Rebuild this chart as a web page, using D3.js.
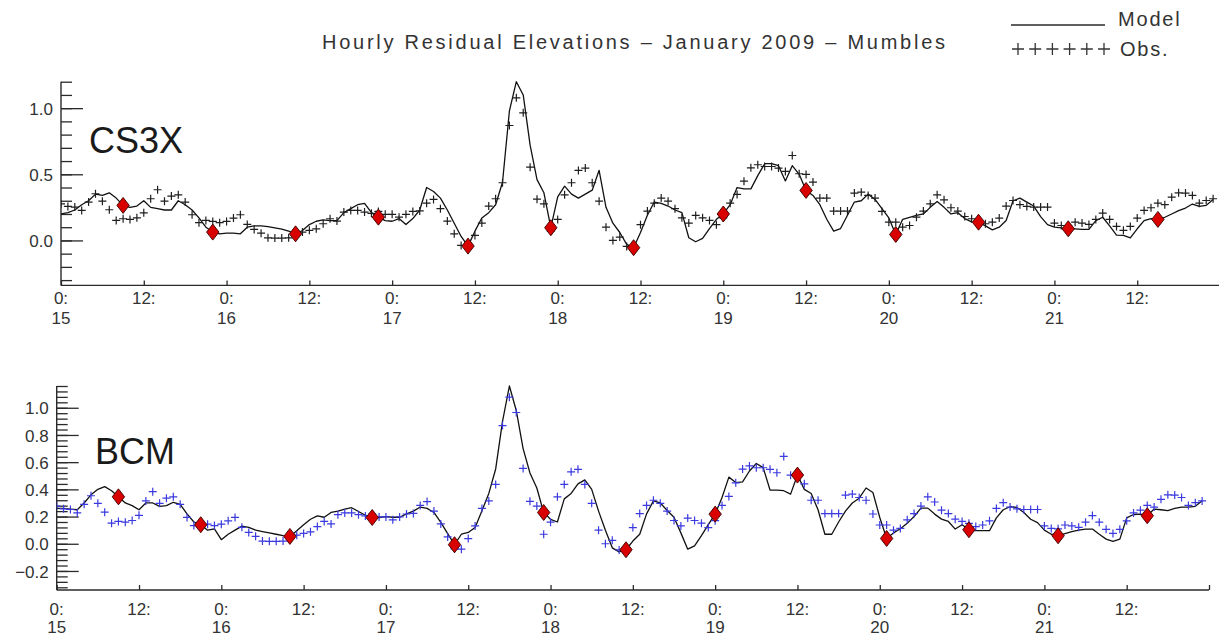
<!DOCTYPE html>
<html>
<head>
<meta charset="utf-8">
<script src="https://cdn.jsdelivr.net/npm/d3@7"></script>
<style>
  body { margin: 0; background: #fff; }
  svg { display: block; }
  text { font-family: "Liberation Sans", Arial, sans-serif; }
</style>
</head>
<body>
<svg id="chart" width="1219" height="640"></svg>
<script>
// Hourly residual elevations (m), 15 Jan 00:00 to 21 Jan 23:00, 2009, Mumbles
const obsResidual = [
  0.277, 0.257, 0.252, 0.227, 0.29, 0.353, 0.297, 0.232, 0.151, 0.164, 0.159, 0.171,
  0.209, 0.315, 0.383, 0.297, 0.335, 0.345, 0.29, 0.194, 0.134, 0.151, 0.144, 0.134,
  0.144, 0.169, 0.194, 0.121, 0.083, 0.055, 0.02, 0.018, 0.018, 0.02, 0.04, 0.063,
  0.076, 0.088, 0.126, 0.164, 0.146, 0.214, 0.227, 0.227, 0.214, 0.205, 0.219, 0.197,
  0.197, 0.176, 0.197, 0.219, 0.223, 0.282, 0.31, 0.24, 0.146, 0.05, -0.038, -0.04,
  0.038, 0.131, 0.26, 0.315, 0.436, 0.869, 1.078, 0.965, 0.554, 0.312, 0.277, 0.07,
  0.159, 0.345, 0.436, 0.529, 0.547, 0.436, 0.297, 0.1, 0.0, 0.025, -0.045, -0.065,
  0.119, 0.222, 0.282, 0.32, 0.297, 0.24, 0.171, 0.131, 0.189, 0.171, 0.151, 0.119,
  0.17, 0.282, 0.348, 0.448, 0.549, 0.572, 0.559, 0.559, 0.547, 0.522, 0.642, 0.504,
  0.499, 0.441, 0.32, 0.32, 0.222, 0.222, 0.222, 0.358, 0.365, 0.34, 0.32, 0.219,
  0.138, 0.138, 0.1, 0.113, 0.176, 0.222, 0.277, 0.345, 0.307, 0.247, 0.222, 0.181,
  0.164, 0.15, 0.126, 0.138, 0.169, 0.26, 0.302, 0.27, 0.257, 0.252, 0.252, 0.252,
  0.131, 0.113, 0.11, 0.138, 0.131, 0.121, 0.159, 0.207, 0.159, 0.106, 0.076, 0.106,
  0.169, 0.227, 0.247, 0.282, 0.27, 0.327, 0.36, 0.358, 0.34, 0.282, 0.302, 0.315
];

const modelCS3X = [
  0.20, 0.21, 0.23, 0.27, 0.30, 0.35, 0.34, 0.36, 0.32, 0.265, 0.25, 0.26,
  0.30, 0.25, 0.24, 0.23, 0.23, 0.30, 0.27, 0.23, 0.17, 0.10, 0.063, 0.05,
  0.055, 0.055, 0.05, 0.10, 0.11, 0.11, 0.105, 0.095, 0.085, 0.07, 0.05, 0.075,
  0.12, 0.145, 0.155, 0.15, 0.15, 0.21, 0.24, 0.27, 0.28, 0.21, 0.176, 0.15,
  0.145, 0.165, 0.12, 0.165, 0.23, 0.40, 0.37, 0.32, 0.23, 0.13, 0.03, -0.043,
  0.07, 0.17, 0.21, 0.27, 0.44, 0.98, 1.20, 1.10, 0.72, 0.46, 0.36, 0.096,
  0.33, 0.41, 0.35, 0.32, 0.35, 0.38, 0.53, 0.25, 0.13, 0.06, -0.03, -0.055,
  0.06, 0.19, 0.29, 0.28, 0.26, 0.23, 0.21, 0.02, -0.01, 0.015, 0.09, 0.16,
  0.20, 0.27, 0.40, 0.39, 0.39, 0.49, 0.58, 0.58, 0.565, 0.45, 0.565, 0.50,
  0.378, 0.34, 0.27, 0.16, 0.07, 0.09, 0.19, 0.29, 0.30, 0.35, 0.31, 0.24,
  0.17, 0.045, 0.16, 0.175, 0.19, 0.20, 0.25, 0.295, 0.25, 0.20, 0.21, 0.165,
  0.14, 0.138, 0.11, 0.08, 0.10, 0.15, 0.30, 0.32, 0.29, 0.26, 0.18, 0.12,
  0.10, 0.095, 0.088, 0.088, 0.083, 0.083, 0.15, 0.175, 0.11, 0.04, 0.038, 0.02,
  0.088, 0.15, 0.165, 0.159, 0.175, 0.20, 0.225, 0.245, 0.275, 0.257, 0.265, 0.31
];

const modelBCM = [
  0.26, 0.26, 0.255, 0.25, 0.30, 0.36, 0.40, 0.42, 0.39, 0.345, 0.30, 0.28,
  0.25, 0.30, 0.30, 0.275, 0.28, 0.305, 0.29, 0.22, 0.16, 0.14, 0.10, 0.11,
  0.03, 0.07, 0.10, 0.13, 0.12, 0.10, 0.09, 0.08, 0.07, 0.06, 0.054, 0.095,
  0.14, 0.18, 0.205, 0.195, 0.23, 0.24, 0.255, 0.265, 0.237, 0.21, 0.193, 0.193,
  0.20, 0.195, 0.195, 0.22, 0.24, 0.27, 0.26, 0.23, 0.157, 0.075, -0.007, 0.07,
  0.083, 0.12, 0.243, 0.37, 0.55, 0.90, 1.16, 0.98, 0.70, 0.52, 0.41, 0.23,
  0.18, 0.16, 0.33, 0.37, 0.44, 0.47, 0.40, 0.24, 0.10, -0.03, -0.06, -0.044,
  0.02, 0.07, 0.22, 0.315, 0.30, 0.245, 0.195, 0.08, -0.04, -0.015, 0.06, 0.14,
  0.218, 0.34, 0.49, 0.45, 0.455, 0.535, 0.59, 0.56, 0.395, 0.395, 0.39, 0.365,
  0.505, 0.40, 0.37, 0.25, 0.07, 0.07, 0.16, 0.24, 0.30, 0.335, 0.41, 0.377,
  0.193, 0.039, 0.08, 0.11, 0.15, 0.20, 0.262, 0.262, 0.218, 0.181, 0.164, 0.108,
  0.14, 0.103, 0.096, 0.096, 0.096, 0.19, 0.25, 0.272, 0.267, 0.23, 0.18, 0.155,
  0.10, 0.07, 0.059, 0.075, 0.09, 0.10, 0.108, 0.108, 0.07, 0.034, 0.017, 0.034,
  0.19, 0.215, 0.218, 0.206, 0.255, 0.25, 0.243, 0.26, 0.27, 0.27, 0.275, 0.316
];

// Hours (from 15 Jan 00:00) of high water, where the residual is marked
const hwCS3X = [9, 22, 34, 46, 59, 71, 83, 96, 108, 121, 133, 146, 159];
const hwBCM  = [9, 21, 34, 46, 58, 71, 83, 96, 108, 121, 133, 146, 159];

const dayLabels = ["15", "16", "17", "18", "19", "20", "21"];
const hourTicks = d3.range(0, 168, 12);
const titleText = "Hourly Residual Elevations \u2013 January 2009 \u2013 Mumbles";
const legendItems = ["Model", "Obs."];

const svg = d3.select("#chart");
const ink = "#2a2a2a";
const labelInk = "#333";

const panels = [
  {
    name: "CS3X", model: modelCS3X, hw: hwCS3X, obsColor: "#1e1e1e",
    x0: 61, x1: 1220, yTop: 81.7, yBot: 285.4, domain: [-0.34, 1.2],
    major: [0, 0.5, 1.0], minor: d3.range(-3, 13).map(i => i / 10), fmt: d3.format(".1f"),
    nameX: 89, nameY: 153, labY1: 304, labY2: 324
  },
  {
    name: "BCM", model: modelBCM, hw: hwBCM, obsColor: "#3a3ae0",
    x0: 56.7, x1: 1209, yTop: 386, yBot: 590, domain: [-0.34, 1.16],
    major: d3.range(-1, 6).map(i => i / 5), minor: d3.range(-8, 30).map(i => i * 0.04),
    fmt: v => d3.format(".1f")(v).replace("-", "\u2212"),
    nameX: 95, nameY: 463.5, labY1: 615, labY2: 633
  }
];

const crossPath = "M-4,0H4M0,-4V4";
const diamondPath = "M0,-8L6.2,0L0,8L-6.2,0Z";

panels.forEach(p => {
  const x = d3.scaleLinear().domain([0, 168]).range([p.x0, p.x1]);
  const y = d3.scaleLinear().domain(p.domain).range([p.yBot, p.yTop]);
  const g = svg.append("g");

  // y axis: long major ticks with labels, short minor ticks, pointing inward
  const yMinor = g.append("g").attr("transform", `translate(${p.x0},0)`)
    .call(d3.axisLeft(y).tickValues(p.minor.filter(v => v >= p.domain[0] && v <= p.domain[1] + 1e-9))
      .tickSizeInner(-11).tickSizeOuter(0).tickFormat(""));
  yMinor.select(".domain").remove();
  const yMajor = g.append("g").attr("transform", `translate(${p.x0},0)`)
    .call(d3.axisLeft(y).tickValues(p.major).tickSizeInner(-22).tickSizeOuter(0)
      .tickPadding(8).tickFormat(p.fmt));
  yMajor.select(".domain").attr("d", `M0,${p.yTop}V${p.yBot}`);

  // x axis: ticks every 12 h, pointing up
  const xTicks = p.name === "BCM" ? hourTicks.concat([168]) : hourTicks;
  const xAxis = g.append("g").attr("transform", `translate(0,${p.yBot})`)
    .call(d3.axisBottom(x).tickValues(xTicks).tickSizeInner(-5).tickSizeOuter(0).tickFormat(""));
  xAxis.select(".domain").attr("d", `M${p.x0},0H${Math.min(p.x1, 1219)}`);

  [yMinor, yMajor, xAxis].forEach(a => {
    a.selectAll("line").attr("stroke", ink).attr("stroke-width", 1.3);
    a.selectAll("path").attr("stroke", ink).attr("stroke-width", 1.4);
  });
  yMajor.selectAll("text").attr("fill", labelInk).attr("font-size", 17).attr("dy", "0.36em");

  // two-row time labels: hour on top, day under midnight
  hourTicks.forEach(h => {
    g.append("text").attr("x", x(h)).attr("y", p.labY1).attr("text-anchor", "middle")
      .attr("font-size", 17).attr("fill", labelInk).text((h % 24) + ":");
    if (h % 24 === 0) {
      g.append("text").attr("x", x(h)).attr("y", p.labY2).attr("text-anchor", "middle")
        .attr("font-size", 17).attr("fill", labelInk).text(dayLabels[h / 24]);
    }
  });

  const clip = "clip-" + p.name;
  g.append("clipPath").attr("id", clip).append("rect")
    .attr("x", p.x0).attr("y", p.yTop - 10).attr("width", 1219 - p.x0).attr("height", p.yBot - p.yTop + 10);
  const plot = g.append("g").attr("clip-path", `url(#${clip})`);

  // model line
  plot.append("path").datum(p.model)
    .attr("d", d3.line().x((d, i) => x(i)).y(d => y(d)))
    .attr("fill", "none").attr("stroke", "#111").attr("stroke-width", 1.3)
    .attr("stroke-linejoin", "round");

  // observations
  plot.selectAll("path.obs").data(obsResidual).join("path").attr("class", "obs")
    .attr("transform", (d, i) => `translate(${x(i)},${y(d)})`)
    .attr("d", crossPath).attr("stroke", p.obsColor).attr("stroke-width", 1.2).attr("fill", "none");

  // high-water markers on the model residual
  plot.selectAll("path.hw").data(p.hw).join("path").attr("class", "hw")
    .attr("transform", h => `translate(${x(h)},${y(p.model[h])})`)
    .attr("d", diamondPath).attr("fill", "#d90000").attr("stroke", "#3a0000").attr("stroke-width", 0.9);

  g.append("text").attr("x", p.nameX).attr("y", p.nameY).attr("font-size", 36)
    .attr("fill", "#1a1a1a").text(p.name);
});

// title and legend
svg.append("text").attr("x", 322).attr("y", 49).attr("font-size", 20).attr("fill", labelInk)
  .attr("textLength", 623).attr("lengthAdjust", "spacing").text(titleText);

svg.append("line").attr("x1", 1011).attr("x2", 1105).attr("y1", 25).attr("y2", 25)
  .attr("stroke", ink).attr("stroke-width", 1.3);
svg.append("text").attr("x", 1118).attr("y", 26).attr("font-size", 20).attr("fill", labelInk)
  .attr("letter-spacing", 1.8).text(legendItems[0]);
d3.range(6).forEach(i => {
  svg.append("path").attr("transform", `translate(${1018 + i * 17.2},49)`)
    .attr("d", "M-6,0H6M0,-6V6").attr("stroke", labelInk).attr("stroke-width", 1.3);
});
svg.append("text").attr("x", 1120).attr("y", 56).attr("font-size", 20).attr("fill", labelInk)
  .attr("letter-spacing", 1.8).text(legendItems[1]);
</script>
</body>
</html>
